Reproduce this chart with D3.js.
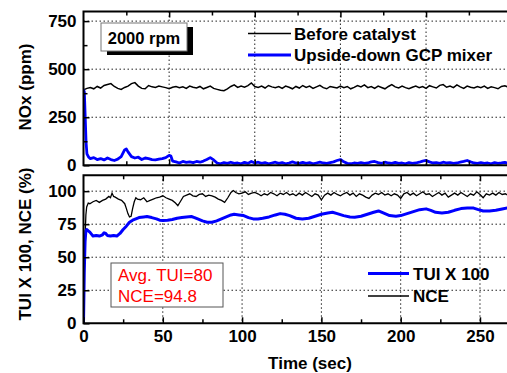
<!DOCTYPE html>
<html><head><meta charset="utf-8">
<script src="https://cdn.jsdelivr.net/npm/d3@7"></script>
<style>
html,body{margin:0;padding:0;background:#fff;}
svg{display:block;}
text{font-family:"Liberation Sans",Arial,sans-serif;}
</style></head>
<body>
<svg id="chart" width="507" height="373"></svg>
<script>
// ---------- DATA ----------
// Top panel: NOx (ppm) vs time (sec)
const noxBefore = [
[0,392],[2,400],[4,405],[6,398],[8,410],[10,402],[12,415],[14,420],[16,425],[18,410],[20,400],[22,395],[24,405],[26,412],[28,425],[30,430],[32,412],[34,400],[36,398],[38,415],[40,408],[42,405],[44,412],[46,408],[48,404],[50,398],[52,406],[54,410],[56,404],[58,408],[60,400],[62,412],[64,406],[66,402],[68,410],[70,398],[72,405],[74,412],[76,400],[78,395],[80,390],[82,388],[84,398],[86,410],[88,418],[90,405],[92,412],[94,406],[96,414],[98,428],[100,410],[102,405],[104,412],[106,402],[108,415],[110,408],[112,404],[114,410],[116,400],[118,412],[120,406],[122,398],[124,410],[126,402],[128,415],[130,405],[132,412],[134,400],[136,408],[138,416],[140,404],[142,398],[144,410],[146,406],[148,402],[150,412],[152,404],[154,410],[156,398],[158,405],[160,415],[162,408],[164,418],[166,404],[168,410],[170,400],[172,412],[174,405],[176,398],[178,410],[180,420],[182,408],[184,402],[186,412],[188,404],[190,398],[192,406],[194,412],[196,404],[198,410],[200,400],[202,414],[204,408],[206,402],[208,416],[210,420],[212,406],[214,412],[216,404],[218,418],[220,408],[222,400],[224,412],[226,406],[228,402],[230,410],[232,404],[234,412],[236,400],[238,408],[240,404],[242,398],[244,410],[246,414],[248,406],[250,404]
];
const noxMixer = [
[0,395],[0.5,380],[1,250],[1.5,120],[2,60],[3,42],[4,35],[6,40],[8,30],[10,35],[12,28],[14,38],[16,30],[18,25],[20,32],[22,45],[24,80],[25,85],[26,70],[28,45],[30,38],[32,42],[34,30],[36,38],[38,35],[40,30],[42,28],[44,32],[46,35],[48,40],[50,52],[51,48],[52,22],[54,18],[56,12],[58,20],[60,15],[62,18],[64,14],[66,20],[68,16],[70,22],[72,30],[74,40],[76,28],[78,12],[80,8],[82,14],[84,10],[86,16],[88,10],[90,12],[92,8],[94,15],[96,10],[98,20],[100,12],[102,16],[104,10],[106,14],[108,8],[110,12],[112,16],[114,10],[116,14],[118,8],[120,12],[122,18],[124,12],[126,10],[128,15],[130,10],[132,14],[134,8],[136,12],[138,16],[140,12],[142,10],[144,14],[146,18],[148,25],[150,30],[152,18],[154,10],[156,8],[158,12],[160,10],[162,14],[164,10],[166,12],[168,18],[170,20],[172,14],[174,10],[176,16],[178,12],[180,10],[182,15],[184,10],[186,12],[188,8],[190,14],[192,10],[194,12],[196,16],[198,22],[200,25],[202,18],[204,12],[206,14],[208,10],[210,16],[212,12],[214,14],[216,10],[218,12],[220,16],[222,20],[224,25],[226,18],[228,12],[230,10],[232,14],[234,10],[236,12],[238,8],[240,14],[242,10],[244,12],[246,15],[248,10],[250,12]
];
// Bottom panel: TUI x 100 and NCE (%) vs time (sec)
const tui = [
[0,0],[0.5,40],[1,62],[1.5,70],[2,71],[3,70],[4,69],[5,67.5],[6,66],[8,66.5],[10,66],[12,67],[13,68.5],[14,68],[15,66.5],[17,66],[19,66.5],[21,66],[23,68],[25,71],[27,73.5],[29,76.5],[31,78],[33,79],[35,80],[38,80.5],[40,80.8],[43,80],[46,79],[48,78],[50,77.8],[53,78],[56,78.5],[59,79.5],[62,80],[65,80.5],[68,80.8],[70,80],[72,79],[75,77.5],[78,76.5],[81,76.5],[84,77.5],[87,79],[90,80.5],[93,82],[95,82.5],[98,82],[101,81.5],[104,80],[107,79],[110,79],[113,79.5],[117,80.5],[121,82],[124,83],[127,82.5],[130,81.5],[134,79.5],[138,79],[142,79.5],[146,81],[150,82.5],[154,83.5],[157,84],[160,83],[164,81.5],[168,80.5],[171,80.3],[175,81],[179,82.5],[183,84],[186,85],[189,83.5],[193,81.5],[197,81],[200,81.5],[204,83],[208,84.5],[212,86],[216,86.6],[219,85.5],[222,84],[226,83.5],[230,84],[234,85.5],[238,86.8],[242,87.2],[246,87.2],[249,86],[252,85],[256,85],[260,85.5],[264,86.5],[268,87.5],[270,87.5]
];
const nce = [
[0,0],[0.5,35],[1,65],[1.5,82],[2,88],[3,91],[4,90.5],[6,92],[8,93],[10,91.5],[12,93],[14,94],[16,96],[17,95],[18,98.5],[19,96],[20,95.5],[22,94],[24,93],[26,90.5],[27,87],[28,83],[29,80.5],[30,81],[31,87],[32,92],[33,95],[34,94],[36,93.5],[38,95],[40,92],[42,93],[44,94],[46,95],[48,95.5],[50,96.5],[52,95],[54,94],[56,93],[58,91],[59.5,89],[61,92],[63,96],[65,97],[67,98],[69,96.5],[71,96],[73,97.5],[75,98],[77,96],[79,97],[81,96.5],[83,95.5],[85,94],[87,93],[89,91.5],[91,95],[93,99],[94.5,100.5],[96,99],[98,98],[100,98.5],[102,99.5],[104,97.5],[106,98.5],[108,99],[110,98],[112,96.5],[114,98],[116,97],[118,99],[120,98],[122,96.5],[124,98.5],[126,97.5],[128,99],[130,97],[132,98],[134,96.5],[136,98.5],[138,97],[140,99],[142,97.5],[144,96],[146,98],[148,97],[150,93.5],[152,97],[154,98.5],[156,97],[158,99],[160,97.5],[162,96.5],[164,98],[166,99],[168,97],[170,98.5],[172,96],[174,98],[176,97],[178,95.5],[180,94.5],[182,97],[184,98.5],[186,97.5],[188,99],[190,97],[192,98],[194,96.5],[196,98],[198,97],[200,94.5],[202,98],[204,99],[206,97],[208,98.5],[210,96.5],[212,98],[214,99.5],[216,97.5],[218,98],[220,96],[222,97.5],[224,99],[226,97],[228,98.5],[230,95.5],[232,97],[234,98.5],[236,97],[238,99],[240,97.5],[242,96],[244,98],[246,97],[248,99.5],[250,97.5],[252,95],[254,98],[256,97],[258,98.5],[260,97],[262,99],[264,97.5],[266,98],[268,96.5],[270,98]
];
const noxTicks = [0, 250, 500, 750];
const noxMinor = [125, 375, 625];
const pctTicks = [0, 25, 50, 75, 100];
const timeTicks = [0, 50, 100, 150, 200, 250];
const timeMinor = [25, 75, 125, 175, 225];
const topLegend = ["Before catalyst", "Upside-down GCP mixer"];
const botLegend = ["TUI X 100", "NCE"];
const annot = ["Avg. TUI=80", "NCE=94.8"];
const rpmLabel = "2000 rpm";

// ---------- LAYOUT ----------
const svg = d3.select("#chart");
const L = 83.5, R = 511.7;
const top1 = 11.5, bot1 = 165.3;
const top2 = 175.3, bot2 = 323.3;
const BLUE = "#0000ff";
const FONT = "17px";

const x1 = d3.scaleLinear().domain([0, 250]).range([L, R]);
const y1 = d3.scaleLinear().domain([0, 800]).range([bot1, top1]);
const x2 = d3.scaleLinear().domain([0, 270]).range([L, R]);
const y2 = d3.scaleLinear().domain([0, 112]).range([bot2, top2]);

function grid(g, xs, ys, xv, yv, t, b) {
  g.selectAll(".gx").data(xv).join("line")
    .attr("x1", d => xs(d)).attr("x2", d => xs(d))
    .attr("y1", t).attr("y2", b)
    .attr("stroke", "#222").attr("stroke-width", 1).attr("stroke-dasharray", "1.5,2.5");
  g.selectAll(".gy").data(yv).join("line")
    .attr("x1", L).attr("x2", R)
    .attr("y1", d => ys(d)).attr("y2", d => ys(d))
    .attr("stroke", "#222").attr("stroke-width", 1).attr("stroke-dasharray", "1.5,2.5");
}

function styleAxis(g) {
  g.select(".domain").remove();
  g.selectAll(".tick line").attr("stroke", "#000").attr("stroke-width", 1.5);
  g.selectAll("text").attr("font-size", FONT).attr("font-weight", "bold")
    .attr("fill", "#000").attr("font-family", '"Liberation Sans",Arial,sans-serif');
}

// ---------- TOP PANEL ----------
const gTop = svg.append("g");
grid(gTop.append("g"), x1, y1, [50, 100, 150, 200], [250, 500, 750], top1, bot1);

const clip1 = svg.append("clipPath").attr("id", "c1").append("rect")
  .attr("x", L).attr("y", top1).attr("width", R - L).attr("height", bot1 - top1);
const clip2 = svg.append("clipPath").attr("id", "c2").append("rect")
  .attr("x", L).attr("y", top2).attr("width", R - L).attr("height", bot2 - top2);

const line1 = d3.line().x(d => x1(d[0])).y(d => y1(d[1]));
gTop.append("path").datum(noxBefore).attr("d", line1).attr("fill", "none")
  .attr("stroke", "#000").attr("stroke-width", 1.5).attr("clip-path", "url(#c1)");
gTop.append("path").datum(noxMixer).attr("d", line1).attr("fill", "none")
  .attr("stroke", BLUE).attr("stroke-width", 2.8).attr("stroke-linejoin", "round").attr("clip-path", "url(#c1)");

// axes (inward ticks)
gTop.append("g").attr("transform", `translate(${L},0)`)
  .call(d3.axisLeft(y1).tickValues(noxTicks).tickSize(-6).tickPadding(7)).call(styleAxis);
gTop.append("g").attr("transform", `translate(${L},0)`)
  .call(d3.axisLeft(y1).tickValues(noxMinor).tickSize(-4).tickFormat("")).call(styleAxis);
gTop.append("g").attr("transform", `translate(0,${bot1})`)
  .call(d3.axisBottom(x1).tickValues(timeTicks.slice(1)).tickSize(-6).tickFormat("")).call(styleAxis);
gTop.append("g").attr("transform", `translate(0,${bot1})`)
  .call(d3.axisBottom(x1).tickValues(timeMinor).tickSize(-4).tickFormat("")).call(styleAxis);
gTop.append("g").attr("transform", `translate(0,${top1})`)
  .call(d3.axisTop(x1).tickValues(timeTicks.slice(1)).tickSize(-6).tickFormat("")).call(styleAxis);
gTop.append("g").attr("transform", `translate(0,${top1})`)
  .call(d3.axisTop(x1).tickValues(timeMinor).tickSize(-4).tickFormat("")).call(styleAxis);

gTop.append("path").attr("d", `M${R + 2},${top1}H${L}V${bot1}H${R + 2}`)
  .attr("fill", "none").attr("stroke", "#000").attr("stroke-width", 2);

// 2000 rpm box with shadow
gTop.append("rect").attr("x", 107).attr("y", 27).attr("width", 86).attr("height", 28).attr("fill", "#000");
gTop.append("rect").attr("x", 101).attr("y", 23).attr("width", 86).attr("height", 28)
  .attr("fill", "#fff").attr("stroke", "#777").attr("stroke-width", 1);
gTop.append("text").attr("x", 144).attr("y", 43.5).attr("text-anchor", "middle")
  .attr("font-size", "16.5px").attr("font-weight", "bold").text(rpmLabel);

// top legend
const tl = gTop.append("g");
tl.selectAll("line").data(topLegend).join("line")
  .attr("x1", 248).attr("x2", 291)
  .attr("y1", (d, i) => 33.5 + i * 21.5).attr("y2", (d, i) => 33.5 + i * 21.5)
  .attr("stroke", (d, i) => i ? BLUE : "#000").attr("stroke-width", (d, i) => i ? 3 : 1.5);
tl.selectAll("text").data(topLegend).join("text")
  .attr("x", 294).attr("y", (d, i) => 39.5 + i * 21.5)
  .attr("font-size", FONT).attr("font-weight", "bold").text(d => d);

// y title
svg.append("text").attr("transform", "translate(31,87) rotate(-90)")
  .attr("text-anchor", "middle").attr("font-size", FONT).attr("font-weight", "bold").text("NOx (ppm)");

// ---------- BOTTOM PANEL ----------
const gB = svg.append("g");
grid(gB.append("g"), x2, y2, [50, 100, 150, 200, 250], [25, 50, 75, 100], top2, bot2);

const line2 = d3.line().x(d => x2(d[0])).y(d => y2(d[1]));
gB.append("path").datum(nce).attr("d", line2).attr("fill", "none")
  .attr("stroke", "#000").attr("stroke-width", 1.3).attr("clip-path", "url(#c2)");
gB.append("path").datum(tui).attr("d", line2).attr("fill", "none")
  .attr("stroke", BLUE).attr("stroke-width", 3).attr("stroke-linejoin", "round").attr("clip-path", "url(#c2)");

gB.append("g").attr("transform", `translate(${L},0)`)
  .call(d3.axisLeft(y2).tickValues(pctTicks).tickSize(-6).tickPadding(7)).call(styleAxis);
gB.append("g").attr("transform", `translate(0,${bot2})`)
  .call(d3.axisBottom(x2).tickValues(timeTicks).tickSize(-6).tickPadding(7)).call(styleAxis);
gB.append("g").attr("transform", `translate(0,${bot2})`)
  .call(d3.axisBottom(x2).tickValues(timeMinor).tickSize(-4).tickFormat("")).call(styleAxis);
gB.append("g").attr("transform", `translate(0,${top2})`)
  .call(d3.axisTop(x2).tickValues(timeTicks.slice(1)).tickSize(-6).tickFormat("")).call(styleAxis);
gB.append("g").attr("transform", `translate(0,${top2})`)
  .call(d3.axisTop(x2).tickValues(timeMinor).tickSize(-4).tickFormat("")).call(styleAxis);

gB.append("path").attr("d", `M${R + 2},${top2}H${L}V${bot2}H${R + 2}`)
  .attr("fill", "none").attr("stroke", "#000").attr("stroke-width", 2);

// annotation box
gB.append("rect").attr("x", 111).attr("y", 263).attr("width", 112).attr("height", 44)
  .attr("fill", "#fff").attr("stroke", "#555").attr("stroke-width", 1);
gB.selectAll(".ann").data(annot).join("text")
  .attr("x", 118).attr("y", (d, i) => 280.5 + i * 21.5)
  .attr("font-size", FONT).attr("fill", "#ff0000").text(d => d);

// bottom legend
const bl = gB.append("g");
bl.selectAll("line").data(botLegend).join("line")
  .attr("x1", 368).attr("x2", 409)
  .attr("y1", (d, i) => 273.5 + i * 22.5).attr("y2", (d, i) => 273.5 + i * 22.5)
  .attr("stroke", (d, i) => i ? "#000" : BLUE).attr("stroke-width", (d, i) => i ? 1.5 : 3);
bl.selectAll("text").data(botLegend).join("text")
  .attr("x", 413).attr("y", (d, i) => 279.5 + i * 22.5)
  .attr("font-size", FONT).attr("font-weight", "bold").text(d => d);

svg.append("text").attr("transform", "translate(30.5,244) rotate(-90)")
  .attr("text-anchor", "middle").attr("font-size", FONT).attr("font-weight", "bold").text("TUI X 100, NCE (%)");
svg.append("text").attr("x", 310).attr("y", 369).attr("text-anchor", "middle")
  .attr("font-size", FONT).attr("font-weight", "bold").text("Time (sec)");
</script>
</body></html>
